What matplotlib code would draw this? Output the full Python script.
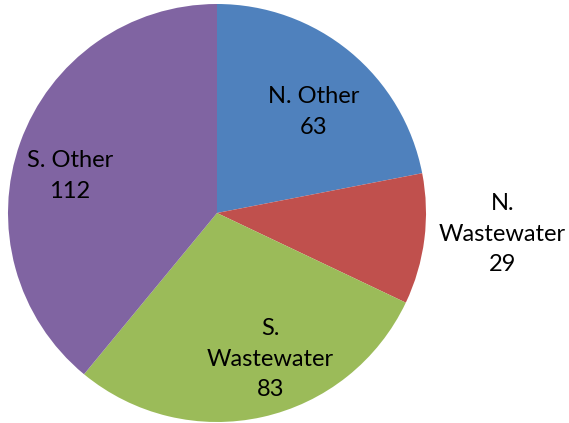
import matplotlib
matplotlib.use("Agg")
import matplotlib.pyplot as plt
import numpy as np

categories = ["N. Other", "N.\nWastewater", "S.\nWastewater", "S. Other"]
values = [63, 29, 83, 112]
colors = ["#4F81BD", "#C0504D", "#9BBB59", "#8064A2"]
label_dist = [0.67, 1.37, 0.745, 0.725]
label_angle_offset = [-4.3, 3.0, 7.5, 5.6]

plt.rcParams['font.family'] = ['Lato', 'DejaVu Sans']

W, H = 569, 423
fig = plt.figure(figsize=(W / 100, H / 100), dpi=100)
ax = fig.add_axes([0, 0, 1, 1])

cx, cy, r = 217, H - 213, 209
wedges, _ = ax.pie(values, colors=colors, startangle=90, counterclock=False,
                   center=(cx, cy), radius=r, frame=True,
                   wedgeprops=dict(linewidth=0))
ax.set_xlim(0, W)
ax.set_ylim(0, H)
ax.set_aspect('equal')
ax.axis('off')

total = sum(values)
cum = 0
for cat, v, d, off in zip(categories, values, label_dist, label_angle_offset):
    mid = 90 - (cum + v / 2) / total * 360 + off
    cum += v
    x = cx + d * r * np.cos(np.radians(mid))
    y = cy + d * r * np.sin(np.radians(mid))
    ax.text(x, y, f"{cat}\n{v}", ha='center', va='center', fontsize=17,
            linespacing=1.56, color='black')

fig.savefig("out.png", dpi=100)
